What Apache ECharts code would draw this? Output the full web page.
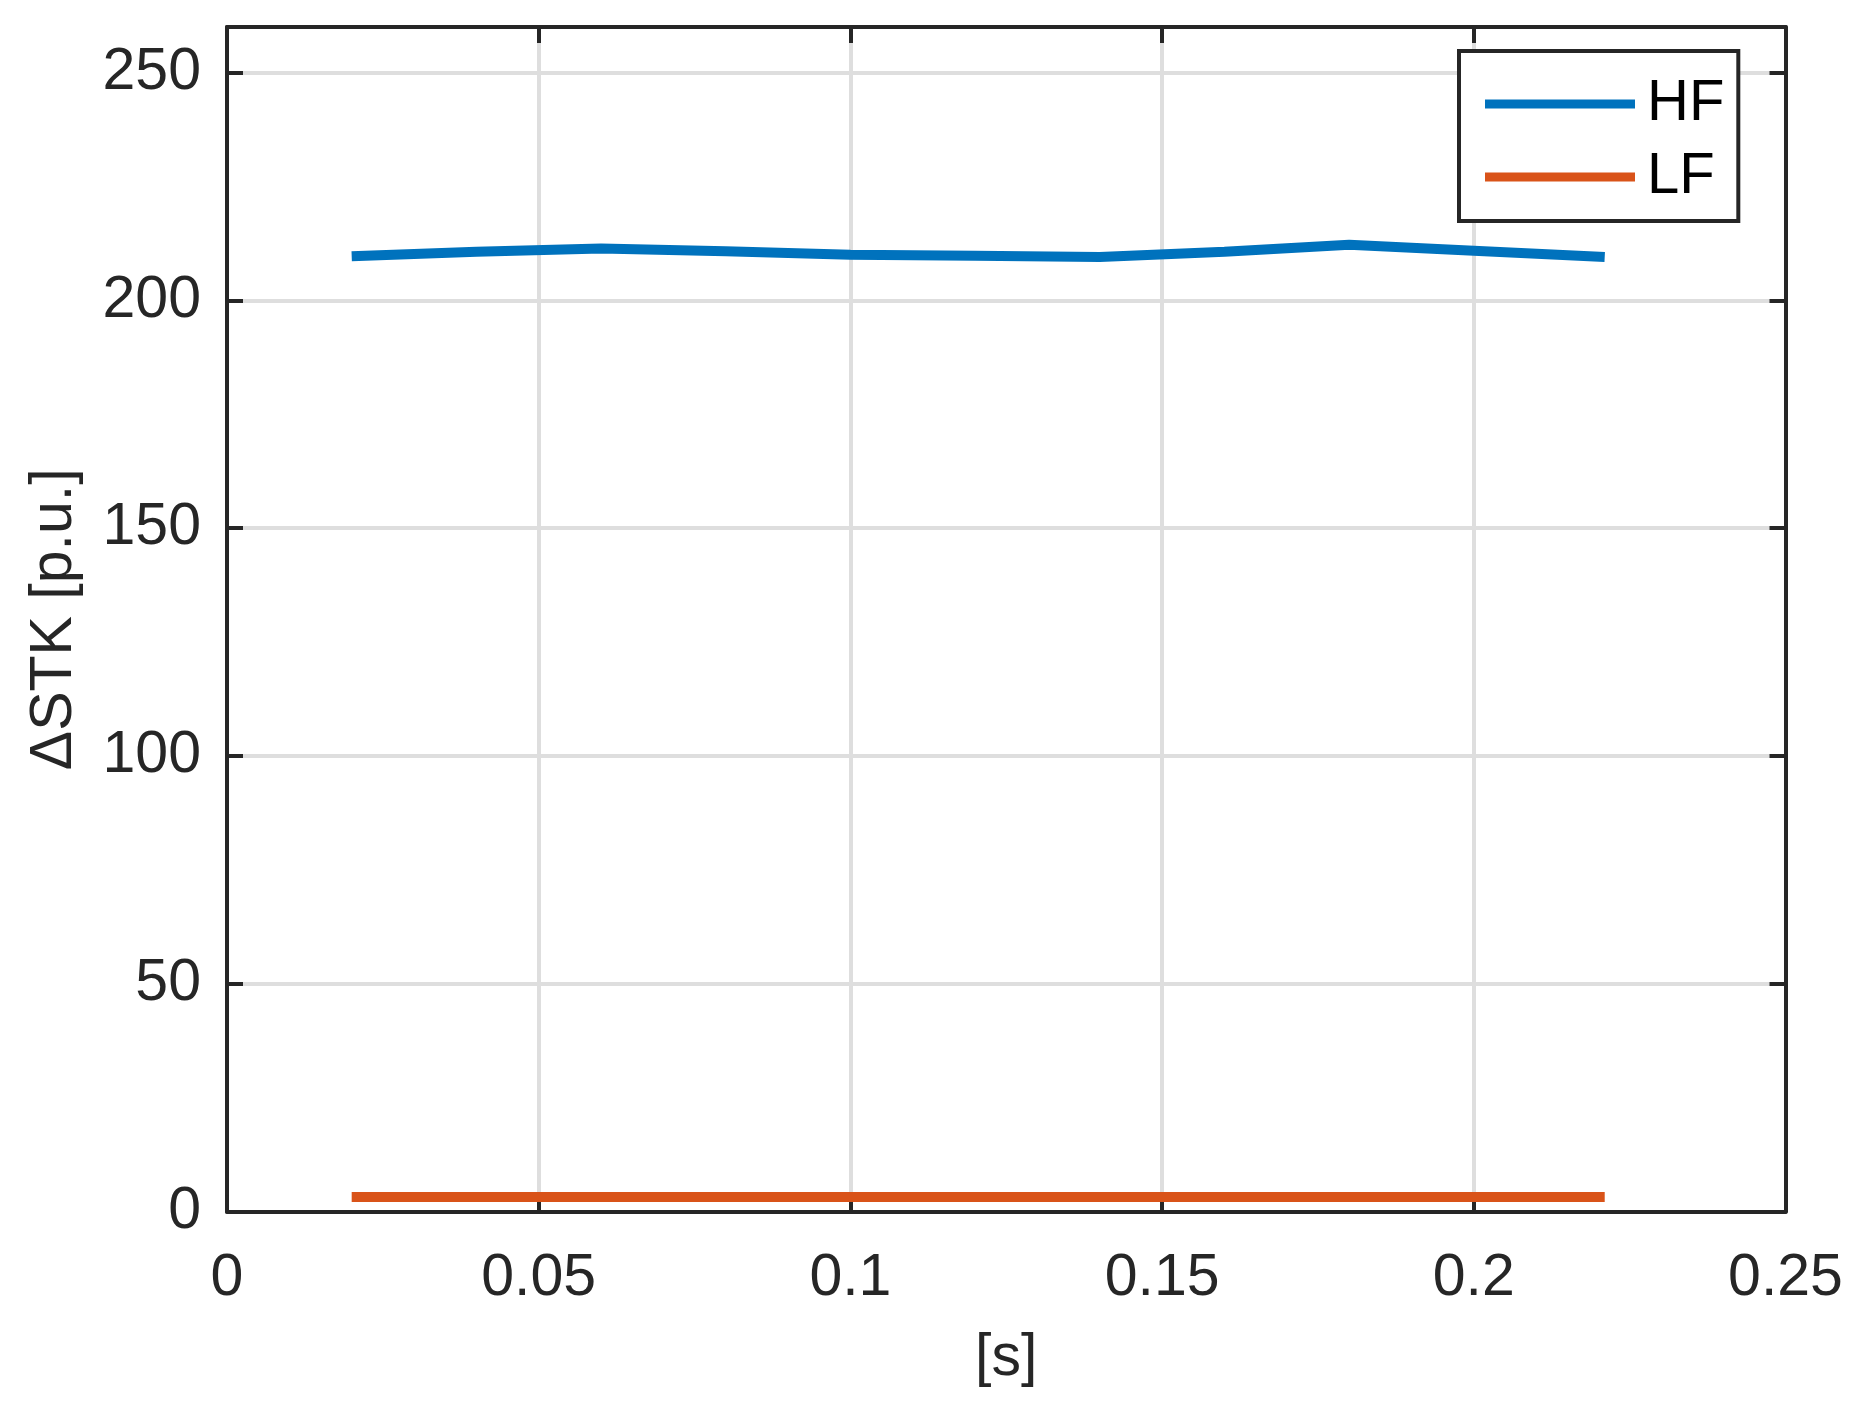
<!DOCTYPE html>
<html>
<head>
<meta charset="utf-8">
<script src="https://cdn.jsdelivr.net/npm/echarts@6/dist/echarts.min.js"></script>
<style>
html,body{margin:0;padding:0;background:#fff;}
#chart{width:1855px;height:1410px;}
</style>
</head>
<body>
<div id="chart"></div>
<script>
// Data
const times = [0.02, 0.04, 0.06, 0.08, 0.10, 0.12, 0.14, 0.16, 0.18, 0.20, 0.221];
const hfValues = [209.7, 210.7, 211.4, 210.8, 210.0, 209.8, 209.5, 210.7, 212.2, 210.9, 209.5];
const lfValues = [3.2, 3.2, 3.2, 3.2, 3.2, 3.2, 3.2, 3.2, 3.2, 3.2, 3.2];
const seriesNames = ['HF', 'LF'];
const xTickLabels = ['0', '0.05', '0.1', '0.15', '0.2', '0.25'];
const yTickLabels = ['0', '50', '100', '150', '200', '250'];

const FONT = '"Liberation Sans", Arial, sans-serif';
const AX = '#262626';

const chart = echarts.init(document.getElementById('chart'), null, {renderer: 'canvas'});

function pairs(xs, ys) { return xs.map((x, i) => [x, ys[i]]); }

const xLabelMap = {};
xTickLabels.forEach((t, i) => { xLabelMap[(i * 0.05).toFixed(2)] = t; });
const yLabelMap = {};
yTickLabels.forEach((t, i) => { yLabelMap[i * 50] = t; });

chart.setOption({
  animation: false,
  backgroundColor: '#ffffff',
  grid: {left: 227, top: 27, width: 1558.5, height: 1184.7, containLabel: false},
  legend: {
    data: seriesNames,
    orient: 'vertical',
    left: 1459,
    top: 51,
    icon: 'rect',
    itemWidth: 150,
    itemHeight: 9,
    itemGap: 15,
    padding: [24, 14, 15, 26],
    borderColor: AX,
    borderWidth: 4,
    borderRadius: 0,
    backgroundColor: '#ffffff',
    textStyle: {fontFamily: FONT, fontSize: 58, color: '#000', padding: [0, 0, 0, 7]}
  },
  xAxis: [{
    type: 'value', min: 0, max: 0.25, interval: 0.05, position: 'bottom',
    name: '[s]', nameLocation: 'middle', nameGap: 118,
    nameTextStyle: {fontFamily: FONT, fontSize: 59, color: AX},
    axisLine: {show: true, onZero: false, lineStyle: {color: AX, width: 4}},
    axisTick: {show: true, inside: true, length: 16, lineStyle: {color: AX, width: 4}},
    axisLabel: {show: true, margin: 38, fontFamily: FONT, fontSize: 59, color: AX,
      formatter: v => xLabelMap[v.toFixed(2)] ?? ''},
    splitLine: {show: true, lineStyle: {color: '#dedede', width: 4}}
  }, {
    type: 'value', min: 0, max: 0.25, interval: 0.05, position: 'top',
    axisLine: {show: true, onZero: false, lineStyle: {color: AX, width: 4}},
    axisTick: {show: true, inside: true, length: 16, lineStyle: {color: AX, width: 4}},
    axisLabel: {show: false},
    splitLine: {show: false}
  }],
  yAxis: [{
    type: 'value', min: 0, max: 260, interval: 50, position: 'left',
    name: 'ΔSTK [p.u.]', nameLocation: 'middle', nameGap: 143, nameRotate: 90,
    nameTextStyle: {fontFamily: FONT, fontSize: 59, color: AX},
    axisLine: {show: true, onZero: false, lineStyle: {color: AX, width: 4}},
    axisTick: {show: true, inside: true, length: 16, lineStyle: {color: AX, width: 4}},
    axisLabel: {show: true, margin: 26, fontFamily: FONT, fontSize: 59, color: AX,
      showMaxLabel: false,
      formatter: v => yLabelMap[v] ?? ''},
    splitLine: {show: true, lineStyle: {color: '#dedede', width: 4}}
  }, {
    type: 'value', min: 0, max: 260, interval: 50, position: 'right',
    axisLine: {show: true, onZero: false, lineStyle: {color: AX, width: 4}},
    axisTick: {show: true, inside: true, length: 16, lineStyle: {color: AX, width: 4}},
    axisLabel: {show: false},
    splitLine: {show: false}
  }],
  series: [{
    name: seriesNames[0], type: 'line', xAxisIndex: 0, yAxisIndex: 0,
    data: pairs(times, hfValues), showSymbol: false, symbol: 'none',
    lineStyle: {color: '#0072BD', width: 10}, itemStyle: {color: '#0072BD'}
  }, {
    name: seriesNames[1], type: 'line', xAxisIndex: 0, yAxisIndex: 0,
    data: pairs(times, lfValues), showSymbol: false, symbol: 'none',
    lineStyle: {color: '#D95319', width: 10}, itemStyle: {color: '#D95319'}
  }]
});
</script>
</body>
</html>
